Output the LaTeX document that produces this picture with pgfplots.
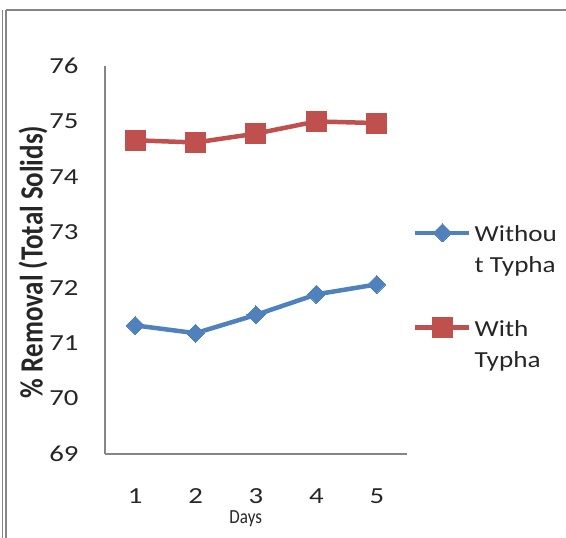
\documentclass[border=0pt]{standalone}
\usepackage{pgfplots}
\pgfplotsset{compat=1.18}
\usepackage{fontspec}
\setmainfont{Carlito}
\definecolor{xblue}{HTML}{4F81BD}
\definecolor{xred}{HTML}{C0504D}
\definecolor{axgray}{HTML}{868686}
\definecolor{txt}{HTML}{262626}
\begin{document}
\begin{tikzpicture}[x=1pt,y=1pt]
\useasboundingbox (0,0) rectangle (566,538);
\draw[axgray, line width=1.6pt] (6,528) -- (566,528);
\draw[axgray, line width=1.4pt] (2.5,528) -- (2.5,0);
\draw[axgray, line width=1.4pt] (6,528) -- (6,0);
\begin{axis}[
  at={(105pt,84pt)}, anchor=south west,
  scale only axis, width=302pt, height=388pt,
  xmin=0.5, xmax=5.5, ymin=69, ymax=76,
  xtick={1,2,3,4,5}, ytick={69,70,71,72,73,74,75,76},
  axis lines*=left,
  axis line style={axgray, line width=1.2pt},
  major tick length=0pt,
  /pgf/number format/assume math mode=true,
  tick label style={font=\fontsize{23}{27}\selectfont, text=txt},
  xticklabel={\scalebox{1.25}[1]{\pgfmathprintnumber{\tick}}},
  yticklabel={\scalebox{1.25}[1]{\pgfmathprintnumber{\tick}}},
  xticklabel style={yshift=-31pt},
  yticklabel style={xshift=-23pt},
  xlabel={\scalebox{0.85}[1]{Days}},
  xlabel style={font=\fontsize{20}{24}\selectfont, text=txt, inner sep=0pt, at={(axis description cs:0.466,-0.168)}, anchor=center},
  ylabel={\scalebox{1}[1.2]{\% Removal (Total Solids)}},
  ylabel style={font=\bfseries\fontsize{27}{30}\selectfont, text=txt, at={(axis description cs:-0.238,0.495)}, anchor=center},
  legend style={draw=none, fill=none, at={(axis description cs:1.02,0.594)}, anchor=north west,
    font=\fontsize{23}{27}\selectfont, text=txt, inner sep=0pt,
    nodes={text height=16pt, text depth=14.75pt, inner sep=0pt}},
  legend cell align=left,
  legend image code/.code={\draw[yshift=8pt, mark repeat=2, mark phase=2, #1] plot coordinates {(0pt,0pt) (27pt,0pt) (54pt,0pt)};},
]
\addplot[xblue, line width=4.5pt, mark=square*, mark size=6.4pt, mark options={rotate=45, solid, line width=0pt, fill=xblue}]
  coordinates {(1,71.32) (2,71.18) (3,71.51) (4,71.88) (5,72.06)};
\addlegendentry{\hspace{3pt}\scalebox{1.18}[1]{Withou}}
\addlegendimage{empty legend}
\addlegendentry{\hspace{3pt}\scalebox{1.18}[1]{t Typha}}
\addlegendimage{empty legend}
\addlegendentry{\hspace{3pt}\strut}
\addplot[xred, line width=4.5pt, mark=square*, mark size=10pt, mark options={solid, line width=0pt, fill=xred}]
  coordinates {(1,74.66) (2,74.62) (3,74.78) (4,75.00) (5,74.97)};
\addlegendentry{\hspace{3pt}\scalebox{1.18}[1]{With}}
\addlegendimage{empty legend}
\addlegendentry{\hspace{3pt}\scalebox{1.18}[1]{Typha}}
\end{axis}
\end{tikzpicture}
\end{document}
